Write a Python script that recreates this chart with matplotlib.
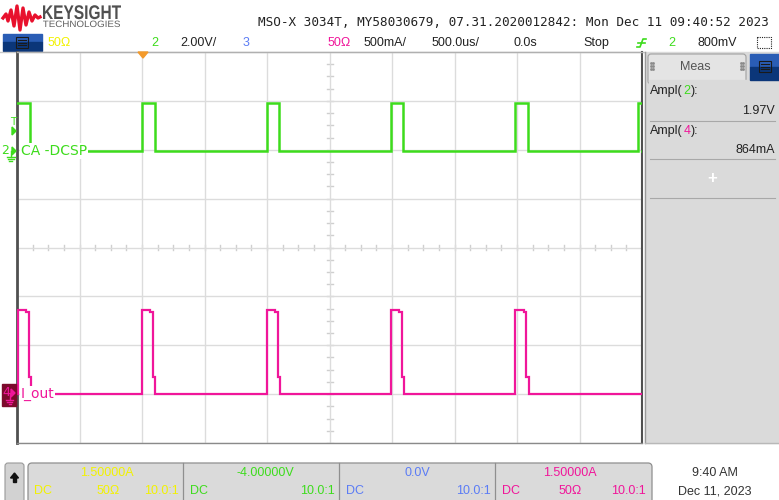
import matplotlib
matplotlib.use("Agg")
import matplotlib.pyplot as plt
import numpy as np
from matplotlib.patches import Rectangle, FancyBboxPatch, PathPatch, Polygon
from matplotlib.textpath import TextPath
from matplotlib.font_manager import FontProperties
from matplotlib.transforms import Affine2D

# ---- scope settings (from the screen) ----
CH2_SCALE, CH2_OFFSET = 2.0, -4.0      # V/div, V
CH4_SCALE, CH4_OFFSET = 0.5, 1.5       # A/div, A
T_LEFT, T_RIGHT = -1.0, 4.0            # ms (500 us/div, trigger 2 div from left)

# channel 2 (CA-DCSP) pulse train
ch2_starts = [-1.0, 0.0, 0.998, 1.99, 2.987, 3.97]   # ms
ch2_width = 0.1                                       # ms
ch2_high, ch2_low = 1.92, -0.05                       # V

# channel 4 (I_out) pulse train, one pulse shape
ch4_starts = [-0.99, 0.0, 0.998, 1.99, 2.987]         # ms
ch4_shape_t = [0.0, 0.0, 0.065, 0.065, 0.088, 0.088, 0.105, 0.105]
ch4_shape_i = [0.0, 0.864, 0.864, 0.845, 0.845, 0.174, 0.174, 0.0]

GREEN = "#3ddc1c"
PINK = "#f0169a"
YELLOW = "#f2f200"
BLUE = "#5b7cf5"
PANEL = "#dadada"
UI = "Liberation Sans"


def ch2_trace():
    t, v = [T_LEFT], [ch2_high]
    for i, s in enumerate(ch2_starts):
        if i > 0:
            t += [s, s]
            v += [ch2_low, ch2_high]
        t += [s + ch2_width, s + ch2_width]
        v += [ch2_high, ch2_low]
    t.append(T_RIGHT)
    v.append(ch2_low)
    return np.array(t), (np.array(v) - CH2_OFFSET) / CH2_SCALE


def ch4_trace():
    t, i = [T_LEFT], [0.0]
    for s in ch4_starts:
        t += [s + d for d in ch4_shape_t]
        i += ch4_shape_i
    t.append(T_RIGHT)
    i.append(0.0)
    return np.array(t), (np.array(i) - CH4_OFFSET) / CH4_SCALE


fig = plt.figure(figsize=(7.79, 5.0), dpi=100)

bg = fig.add_axes([0, 0, 1, 1], zorder=0)
bg.set_xlim(0, 779)
bg.set_ylim(500, 0)
bg.axis("off")

ov = fig.add_axes([0, 0, 1, 1], zorder=3)
ov.set_xlim(0, 779)
ov.set_ylim(500, 0)
ov.axis("off")
ov.patch.set_alpha(0)

# ---- graticule ----
X0, X1, Y0, Y1 = 17, 642, 52, 443
ax = fig.add_axes([X0 / 779, 1 - Y1 / 500, (X1 - X0) / 779, (Y1 - Y0) / 500], zorder=1)
ax.set_xlim(T_LEFT, T_RIGHT)
ax.set_ylim(-4, 4)
ax.set_xticks(np.arange(T_LEFT, T_RIGHT + 0.01, 0.5))
ax.set_yticks(np.arange(-4, 5, 1))
ax.grid(True, color="#dcdcdc", lw=1)
ax.tick_params(length=0, labelbottom=False, labelleft=False)
ax.spines["left"].set(color="#505050", lw=2)
ax.spines["right"].set(color="#505050", lw=1.5)
ax.spines["bottom"].set(color="#8a8a8a", lw=1)
ax.spines["top"].set(color="#b0b0b0", lw=1)
tc = (T_LEFT + T_RIGHT) / 2
for t in np.arange(T_LEFT, T_RIGHT, 0.125):
    ax.plot([t, t], [-0.06, 0.06], color="#cfcfcf", lw=1, zorder=1)
for y in np.arange(-4, 4, 0.25):
    ax.plot([tc - 0.024, tc + 0.024], [y, y], color="#cfcfcf", lw=1, zorder=1)

t2, y2 = ch2_trace()
ax.plot(t2, y2, color=GREEN, lw=1.8, zorder=3, solid_joinstyle="miter")
t4, y4 = ch4_trace()
ax.plot(t4, y4, color=PINK, lw=1.6, zorder=3, solid_joinstyle="miter")

# trigger position marker
ov.add_patch(Polygon([[138, 52], [148, 52], [143, 58]], color="#f39a2b"))

# trace labels
ov.text(21, 151, "CA -DCSP", color=GREEN, fontsize=10, va="center", ha="left",
        family="DejaVu Sans", bbox=dict(fc="white", ec="none", pad=0.5))
ov.text(21, 394, "I_out", color=PINK, fontsize=10, va="center", ha="left",
        family="DejaVu Sans", bbox=dict(fc="white", ec="none", pad=0.5))

# left-side channel markers
ov.text(13, 122, "T", color=GREEN, fontsize=7.5, ha="center", va="center", family="DejaVu Sans")
ov.add_patch(Polygon([[12, 127], [12, 135], [16, 131]], color=GREEN))
ov.text(5, 151, "2", color=GREEN, fontsize=9, ha="center", va="center", family="DejaVu Sans")
ov.add_patch(Polygon([[12, 147], [12, 155], [16, 151]], color=GREEN))
ov.plot([11, 11], [151, 157], color=GREEN, lw=1)
for k, w in enumerate([4, 3, 1.5]):
    ov.plot([11 - w, 11 + w], [157 + 2 * k, 157 + 2 * k], color=GREEN, lw=1)
ov.add_patch(Rectangle((2, 384), 14, 22, color="#7c0a2c"))
ov.text(6, 393, "4", color=PINK, fontsize=9, ha="center", va="center", family="DejaVu Sans")
ov.add_patch(Polygon([[11, 389], [11, 397], [15, 393]], color=PINK))
ov.plot([10, 10], [393, 400], color=PINK, lw=1)
for k, w in enumerate([3.5, 2.5, 1]):
    ov.plot([10 - w, 10 + w], [400 + 2 * k, 400 + 2 * k], color=PINK, lw=1)

# ---- header ----
logo_x = [3, 6, 8, 11, 14, 17, 20, 23, 26, 29, 32, 35, 38, 40]
logo_y = [18, 14, 21, 10, 26, 6, 30, 8, 25, 12, 21, 15, 18, 17]
bg.plot(logo_x, logo_y, color="#e8112d", lw=2.4, solid_joinstyle="round")


def boxed_text(axis, s, x0, x1, ybase, cap, weight, color):
    tp = TextPath((0, 0), s, size=1, prop=FontProperties(family=UI, weight=weight))
    ext = tp.get_extents()
    sx = (x1 - x0) / ext.width
    sy = cap / ext.height
    tr = Affine2D().translate(-ext.x0, 0).scale(sx, -sy).translate(x0, ybase)
    axis.add_patch(PathPatch(tp, transform=tr + axis.transData, color=color, lw=0))


boxed_text(bg, "KEYSIGHT", 43, 121, 19, 14, "bold", "#505050")
boxed_text(bg, "TECHNOLOGIES", 43, 120, 27, 6.5, "normal", "#606060")

bg.text(258, 22, "MSO-X 3034T, MY58030679, 07.31.2020012842: Mon Dec 11 09:40:52 2023",
        family="DejaVu Sans Mono", fontsize=9.1, va="center", ha="left", color="#222222")

# control row
bg.add_patch(Rectangle((3, 34), 39, 8, color="#2a5db5"))
bg.add_patch(Rectangle((3, 42), 39, 9, color="#0b3679"))
bg.add_patch(Rectangle((16, 37), 12, 11, fc="none", ec="#1a1a1a", lw=0.8))
for yy in [40, 42.5, 45]:
    bg.plot([18, 26], [yy, yy], color="#1a1a1a", lw=0.8)
row = [(48, "50Ω", YELLOW), (151, "2", GREEN), (180, "2.00V/", "#222222"),
       (243, "3", BLUE), (328, "50Ω", PINK), (364, "500mA/", "#222222"),
       (432, "500.0us/", "#222222"), (514, "0.0s", "#222222"),
       (583, "Stop", "#222222"), (668, "2", GREEN), (698, "800mV", "#222222")]
for x, s, c in row:
    bg.text(x, 43, s, color=c, family=UI, fontsize=9, va="center", ha="left")
bg.plot([637, 640, 643, 646], [47, 47, 39, 39], color=GREEN, lw=1.2)
bg.plot([638, 645], [43, 43], color=GREEN, lw=1.2)
bg.add_patch(Rectangle((757, 37), 14, 11, fc="none", ec="#222222", lw=0.8, ls=(0, (1, 1))))
bg.plot([0, 645], [51.5, 51.5], color="#c8c8c8", lw=1)

# ---- measurement panel ----
bg.add_patch(Rectangle((645, 52), 134, 391, color=PANEL))
bg.plot([645, 645], [52, 443], color="#9a9a9a", lw=1)
bg.plot([645, 779], [443, 443], color="#b8b8b8", lw=1)
bg.add_patch(FancyBboxPatch((648, 54), 98, 30, boxstyle="round,pad=0,rounding_size=3",
                            fc="#e4e4e4", ec="#a0a0a0", lw=0.8))
bg.add_patch(Rectangle((649, 80), 130, 6, color=PANEL))
bg.add_patch(Rectangle((750, 54), 29, 13, color="#2a5db5"))
bg.add_patch(Rectangle((750, 67), 29, 13, color="#0b3679"))
bg.add_patch(Rectangle((759, 61), 12, 11, fc="none", ec="#1a1a1a", lw=0.8))
for yy in [64, 66.5, 69]:
    bg.plot([761, 769], [yy, yy], color="#1a1a1a", lw=0.8)
bg.text(695, 67, "Meas", family=UI, fontsize=9, color="#555555", ha="center", va="center")
for gx in [651, 741]:
    for dx in [0, 2.5]:
        for dy in [-3, 0, 3]:
            bg.plot(gx + dx, 66 + dy, "s", ms=0.9, color="#8a8a8a")
for ym, ch, col in [(91, "2", GREEN), (131, "4", PINK)]:
    bg.text(650, ym, "Ampl(", family=UI, fontsize=9, color="#222222", va="center", ha="left")
    bg.text(683.5, ym, ch, family=UI, fontsize=9, color=col, va="center", ha="left")
    bg.text(690.5, ym, "):", family=UI, fontsize=9, color="#222222", va="center", ha="left")
bg.text(775, 111, "1.97V", family=UI, fontsize=9, color="#222222", va="center", ha="right")
bg.plot([650, 775], [121, 121], color="#a8a8a8", lw=0.8)
bg.text(775, 150, "864mA", family=UI, fontsize=9, color="#222222", va="center", ha="right")
bg.plot([650, 775], [159, 159], color="#a8a8a8", lw=0.8)
bg.text(712, 178, "+", family=UI, fontsize=12, weight="bold", color="white", va="center", ha="center")
bg.plot([650, 775], [198, 198], color="#a8a8a8", lw=0.8)

# ---- bottom channel bar ----
bg.add_patch(FancyBboxPatch((5, 463), 19, 45, boxstyle="round,pad=0,rounding_size=3",
                            fc="#d2d2d2", ec="#9a9a9a", lw=0.8))
bg.add_patch(Polygon([[10.5, 478], [18.5, 478], [14.5, 473]], color="#111111"))
bg.add_patch(Rectangle((13, 477), 3, 5, color="#111111"))
bg.add_patch(FancyBboxPatch((28, 463), 624, 45, boxstyle="round,pad=0,rounding_size=4",
                            fc=PANEL, ec="#8f8f8f", lw=0.9))
for dx in [183, 339, 495]:
    bg.plot([dx, dx], [463, 500], color="#8f8f8f", lw=0.9)
bottom = [
    (107, "1.50000A", YELLOW, "center", 473), (34, "DC", YELLOW, "left", 491),
    (108, "50Ω", YELLOW, "center", 491), (179, "10.0:1", YELLOW, "right", 491),
    (265, "-4.00000V", GREEN, "center", 473), (190, "DC", GREEN, "left", 491),
    (335, "10.0:1", GREEN, "right", 491),
    (417, "0.0V", BLUE, "center", 473), (346, "DC", BLUE, "left", 491),
    (491, "10.0:1", BLUE, "right", 491),
    (570, "1.50000A", PINK, "center", 473), (502, "DC", PINK, "left", 491),
    (570, "50Ω", PINK, "center", 491), (646, "10.0:1", PINK, "right", 491),
]
for x, s, c, ha, y in bottom:
    bg.text(x, y, s, color=c, family=UI, fontsize=9, ha=ha, va="center")
bg.text(715, 473, "9:40 AM", color="#333333", family=UI, fontsize=9, ha="center", va="center")
bg.text(715, 491, "Dec 11, 2023", color="#333333", family=UI, fontsize=9, ha="center", va="center")

fig.savefig("out.png", dpi=100)
